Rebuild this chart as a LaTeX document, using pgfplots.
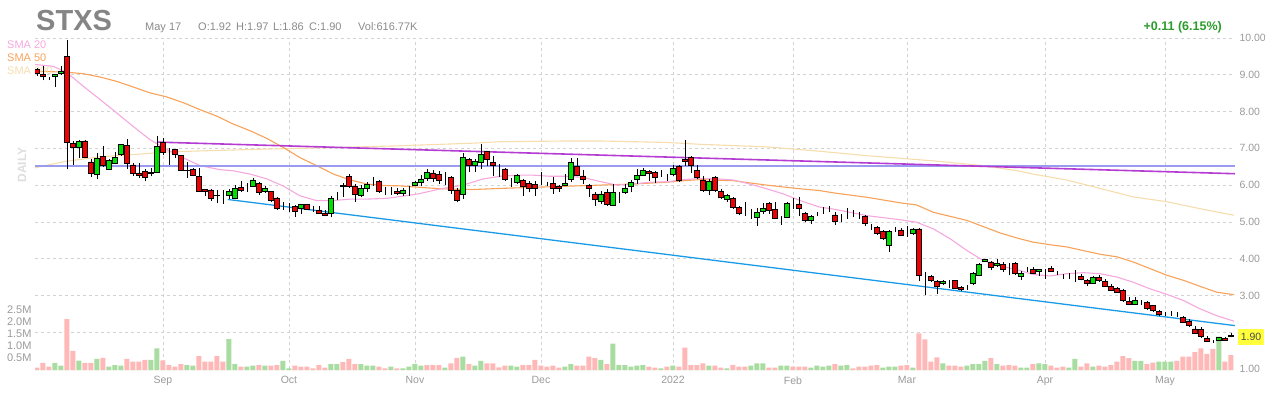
\documentclass[border=0pt]{standalone}
\usepackage{pgfplots}
\pgfplotsset{compat=1.18}
\usepackage{pgfplotstable}
\usepackage{fontspec}
\setmainfont{Liberation Sans}

\definecolor{gridc}{HTML}{D2D2D2}
\definecolor{labc}{HTML}{9A9A9A}
\definecolor{upc}{HTML}{00E000}
\definecolor{dnc}{HTML}{F00000}
\definecolor{vup}{HTML}{A8DCA0}
\definecolor{vdn}{HTML}{FFB8B8}
\definecolor{smaa}{HTML}{F5A8DE}
\definecolor{smab}{HTML}{F8A25A}
\definecolor{smac}{HTML}{F6DDAE}
\definecolor{purp}{HTML}{B43CD2}
\definecolor{viol}{HTML}{9A9AEE}
\definecolor{bluel}{HTML}{1B9BE6}
\definecolor{hdr}{HTML}{858585}
\definecolor{hdrs}{HTML}{8A8A8A}
\definecolor{gain}{HTML}{2C9C2C}
\definecolor{badge}{HTML}{FFFF3C}

\pgfplotstableread{
i o h l c v d
0 9.14 9.18 8.98 9.03 0.10 0
1 9.00 9.25 8.85 8.95 0.30 0
2 8.90 8.95 8.87 8.90 0.14 0
3 8.95 9.03 8.67 9.00 0.30 1
4 9.03 9.23 9.00 9.08 0.18 1
5 9.50 9.95 6.43 7.17 2.12 0
6 7.13 7.20 6.55 7.04 0.80 0
7 7.04 7.24 6.74 7.19 0.39 1
8 7.20 7.24 6.74 6.76 0.30 0
9 6.63 6.70 6.22 6.33 0.30 0
10 6.30 6.86 6.17 6.73 0.46 1
11 6.79 7.06 6.50 6.54 0.51 0
12 6.44 6.71 6.42 6.68 0.14 1
13 6.60 6.90 6.57 6.75 0.20 1
14 6.83 7.13 6.80 7.10 0.18 1
15 7.09 7.26 6.44 6.58 0.46 0
16 6.55 6.60 6.26 6.32 0.35 0
17 6.33 6.60 6.20 6.26 0.35 0
18 6.38 6.43 6.11 6.22 0.42 0
19 6.33 6.47 6.24 6.34 0.42 1
20 6.35 7.33 6.33 7.06 0.90 1
21 7.17 7.29 6.83 6.90 0.40 0
22 6.90 7.00 6.55 6.90 0.20 0
23 6.97 6.99 6.74 6.83 0.14 0
24 6.80 6.83 6.38 6.40 0.25 0
25 6.41 6.63 6.20 6.40 0.20 1
26 6.43 6.47 6.24 6.27 0.18 1
27 6.24 6.46 5.81 5.84 0.58 0
28 5.88 5.90 5.70 5.83 0.35 0
29 5.87 5.90 5.57 5.63 0.35 0
30 5.73 5.88 5.52 5.72 0.58 0
31 5.70 5.88 5.49 5.70 0.35 0
32 5.71 5.90 5.62 5.82 1.29 1
33 5.64 6.00 5.62 5.90 0.25 1
34 5.94 6.12 5.80 5.85 0.14 0
35 5.91 6.07 5.82 5.91 0.14 1
36 5.97 6.19 5.94 6.14 0.18 1
37 6.05 6.08 5.74 5.79 0.20 0
38 5.83 5.97 5.78 5.91 0.18 1
39 5.82 5.85 5.55 5.58 0.18 0
40 5.65 5.69 5.33 5.37 0.20 0
41 5.40 5.53 5.33 5.40 0.38 1
42 5.46 5.52 5.26 5.46 0.07 1
43 5.43 5.46 5.13 5.30 0.18 0
44 5.37 5.50 5.22 5.48 0.14 0
45 5.48 5.50 5.33 5.35 0.14 0
46 5.35 5.42 5.28 5.35 0.07 0
47 5.31 5.42 5.22 5.24 0.20 0
48 5.24 5.33 5.15 5.17 0.10 0
49 5.24 5.71 5.12 5.64 0.24 1
50 5.76 5.80 5.60 5.76 0.24 1
51 5.98 6.07 5.67 5.99 0.33 0
52 6.23 6.30 5.91 5.96 0.46 0
53 5.98 6.03 5.55 5.74 0.24 0
54 5.71 6.00 5.67 5.90 0.24 1
55 5.91 6.08 5.80 6.03 0.18 1
56 6.09 6.21 5.98 6.09 0.18 1
57 6.09 6.15 5.79 5.82 0.14 0
58 5.86 5.94 5.73 5.86 0.07 0
59 5.90 5.94 5.73 5.90 0.14 1
60 5.83 5.91 5.73 5.78 0.07 0
61 5.78 5.91 5.71 5.87 0.07 1
62 5.92 5.97 5.71 5.92 0.14 1
63 6.00 6.11 5.97 6.08 0.24 1
64 6.08 6.27 5.97 6.17 0.18 1
65 6.18 6.44 6.12 6.35 0.20 0
66 6.33 6.42 6.09 6.18 0.20 0
67 6.30 6.39 6.03 6.14 0.20 0
68 6.18 6.35 6.00 6.18 0.10 1
69 6.21 6.26 5.76 5.87 0.28 0
70 5.87 5.91 5.53 5.58 0.51 0
71 5.74 6.87 5.62 6.75 0.56 1
72 6.71 6.75 6.35 6.55 0.24 0
73 6.55 6.71 6.35 6.64 0.18 1
74 6.62 7.11 6.44 6.84 0.38 1
75 6.91 6.93 6.53 6.71 0.28 0
76 6.62 6.80 6.26 6.55 0.28 0
77 6.48 6.57 6.21 6.48 0.11 0
78 6.44 6.46 6.12 6.17 0.18 0
79 6.14 6.18 5.94 6.14 0.18 1
80 6.08 6.30 6.03 6.26 0.14 1
81 6.12 6.17 5.71 5.97 0.20 0
82 6.05 6.12 5.80 5.91 0.20 0
83 6.03 6.12 5.71 5.91 0.42 0
84 6.08 6.35 6.00 6.08 0.18 0
85 6.02 6.08 5.97 6.02 0.14 0
86 6.05 6.21 5.76 5.90 0.18 0
87 5.97 6.00 5.82 5.91 0.10 0
88 6.00 6.30 5.98 6.05 0.14 1
89 6.17 6.75 6.08 6.62 0.24 1
90 6.51 6.75 6.24 6.27 0.18 0
91 6.25 6.42 6.03 6.17 0.18 0
92 5.99 6.03 5.67 5.90 0.56 0
93 5.76 5.80 5.44 5.62 0.49 0
94 5.55 5.85 5.49 5.76 0.42 1
95 5.79 5.90 5.44 5.49 0.24 0
96 5.46 6.03 5.44 5.80 1.10 1
97 5.73 5.80 5.52 5.73 0.20 1
98 5.80 6.03 5.76 5.91 0.20 1
99 5.97 6.14 5.80 6.08 0.14 1
100 6.15 6.44 6.03 6.27 0.18 1
101 6.27 6.46 6.24 6.41 0.20 1
102 6.37 6.42 6.12 6.33 0.14 0
103 6.35 6.39 6.06 6.21 0.10 0
104 6.26 6.42 6.21 6.26 0.07 1
105 6.24 6.30 6.12 6.24 0.14 0
106 6.30 6.55 6.26 6.46 0.18 1
107 6.51 6.55 6.09 6.14 0.14 0
108 6.69 7.23 6.53 6.64 0.93 0
109 6.75 6.80 6.33 6.53 0.20 0
110 6.41 6.55 6.17 6.21 0.20 0
111 6.14 6.24 5.82 5.85 0.28 0
112 5.85 6.17 5.73 6.10 0.18 1
113 6.21 6.24 5.82 5.87 0.18 0
114 5.83 5.90 5.62 5.66 0.10 0
115 5.60 5.76 5.55 5.71 0.07 1
116 5.64 5.69 5.35 5.40 0.20 0
117 5.40 5.44 5.19 5.24 0.14 0
118 5.21 5.53 5.17 5.21 0.14 0
119 5.15 5.35 5.07 5.15 0.18 1
120 5.13 5.37 4.90 5.26 0.28 1
121 5.28 5.52 5.22 5.37 0.28 1
122 5.50 5.53 5.22 5.31 0.10 0
123 5.35 5.53 5.08 5.10 0.10 0
124 5.15 5.17 4.92 5.15 0.18 1
125 5.13 5.53 5.11 5.51 0.18 1
126 5.49 5.64 5.35 5.49 0.14 0
127 5.49 5.67 5.17 5.37 0.14 0
128 5.24 5.26 4.99 5.04 0.14 0
129 5.04 5.19 4.95 5.15 0.10 1
130 5.20 5.26 5.15 5.20 0.18 1
131 5.29 5.40 5.22 5.29 0.14 1
132 5.37 5.43 5.26 5.37 0.18 1
133 5.19 5.26 4.92 5.01 0.24 0
134 5.06 5.22 4.99 5.06 0.18 1
135 5.15 5.37 5.08 5.15 0.20 1
136 5.26 5.31 5.13 5.26 0.07 0
137 5.22 5.26 5.08 5.22 0.14 0
138 5.15 5.19 4.90 4.95 0.14 0
139 4.88 4.95 4.79 4.88 0.18 0
140 4.86 4.90 4.65 4.69 0.20 0
141 4.75 4.78 4.50 4.54 0.10 1
142 4.36 4.78 4.18 4.75 0.14 1
143 4.79 4.86 4.72 4.79 0.14 1
144 4.78 4.83 4.61 4.63 0.18 0
145 4.63 4.88 4.59 4.63 0.20 0
146 4.69 4.83 4.65 4.81 0.10 1
147 4.81 4.83 3.38 3.56 1.53 0
148 3.59 3.65 3.00 3.59 1.28 0
149 3.52 3.55 3.37 3.41 0.35 0
150 3.37 3.41 3.05 3.25 0.53 0
151 3.32 3.41 3.28 3.38 0.28 1
152 3.37 3.41 3.20 3.37 0.18 0
153 3.41 3.43 3.19 3.20 0.18 0
154 3.21 3.25 3.11 3.16 0.14 0
155 3.22 3.28 3.14 3.22 0.18 1
156 3.34 3.64 3.28 3.59 0.24 1
157 3.56 3.88 3.53 3.84 0.24 1
158 3.93 4.00 3.91 3.97 0.38 1
159 3.91 3.95 3.68 3.77 0.49 0
160 3.82 4.00 3.77 3.88 0.24 1
161 3.84 3.91 3.64 3.70 0.18 0
162 3.82 3.89 3.55 3.82 0.20 0
163 3.88 3.91 3.55 3.59 0.18 0
164 3.53 3.66 3.43 3.61 0.10 1
165 3.70 3.77 3.64 3.70 0.10 1
166 3.71 3.77 3.57 3.61 0.24 0
167 3.65 3.73 3.52 3.70 0.28 1
168 3.66 3.73 3.45 3.66 0.24 1
169 3.73 3.79 3.64 3.66 0.18 0
170 3.59 3.66 3.55 3.59 0.10 0
171 3.52 3.59 3.45 3.52 0.14 0
172 3.52 3.61 3.45 3.52 0.10 1
173 3.57 3.70 3.36 3.57 0.46 1
174 3.52 3.57 3.41 3.45 0.14 0
175 3.41 3.45 3.27 3.32 0.28 0
176 3.34 3.52 3.32 3.50 0.14 1
177 3.50 3.55 3.36 3.41 0.18 0
178 3.38 3.45 3.23 3.25 0.14 0
179 3.25 3.30 3.12 3.14 0.20 0
180 3.20 3.23 3.06 3.09 0.35 0
181 3.14 3.18 2.82 2.86 0.58 0
182 2.84 2.95 2.73 2.75 0.49 0
183 2.77 2.95 2.73 2.86 0.38 1
184 2.82 2.88 2.75 2.82 0.38 1
185 2.80 2.84 2.61 2.64 0.24 0
186 2.73 2.75 2.56 2.59 0.31 0
187 2.57 2.61 2.45 2.48 0.35 1
188 2.48 2.55 2.43 2.48 0.35 1
189 2.52 2.59 2.45 2.52 0.35 1
190 2.47 2.55 2.41 2.47 0.38 0
191 2.41 2.45 2.25 2.27 0.56 0
192 2.30 2.36 2.15 2.18 0.56 0
193 2.09 2.18 1.95 1.98 0.74 0
194 2.07 2.15 1.85 1.89 0.90 0
195 1.84 1.91 1.73 1.75 0.67 0
196 1.75 1.79 1.72 1.75 0.88 0
197 1.79 1.86 1.77 1.85 1.39 1
198 1.84 1.88 1.77 1.79 0.35 0
199 1.92 1.97 1.86 1.90 0.62 0
}\candles

\pgfplotstableread{
i p
-0.33 9.28
2.7 9.23
4.9 9.07
7.7 8.69
10.5 8.33
13.3 7.96
16 7.60
18.8 7.24
21.6 6.97
24.4 6.74
27.2 6.53
30.5 6.42
32.7 6.39
35.5 6.30
38.3 6.17
41.1 5.97
43.8 5.71
46.6 5.58
49.4 5.58
52.2 5.62
55 5.62
58.3 5.64
60.5 5.69
63.5 5.76
67.3 5.90
70.8 5.99
74.4 6.17
77.2 6.24
80 6.27
82.8 6.27
85.5 6.24
88.3 6.24
91 6.21
93.8 6.10
96.6 6.00
99.4 6.03
102.2 6.08
105 6.09
107.8 6.15
110.5 6.18
113.3 6.17
116 6.14
118.8 6.03
121.6 5.90
124.4 5.76
127.2 5.58
130.5 5.40
132.7 5.35
138.3 5.17
143.8 5.06
146.6 4.99
149.4 4.81
152.2 4.54
155 4.22
157.7 3.95
160.5 3.80
163.8 3.68
166 3.57
168.8 3.53
171.6 3.59
174.4 3.62
177.2 3.59
180 3.50
182.7 3.36
185.5 3.18
188.3 3.03
191.1 2.86
193.8 2.64
196.6 2.45
199.5 2.30
}\smatwenty

\pgfplotstableread{
i p
-0.33 9.10
4.9 9.07
7.7 9.03
10.5 8.94
13.3 8.82
16 8.67
18.8 8.51
21.6 8.40
24.4 8.24
27.2 8.05
29.9 7.88
32.7 7.66
35.5 7.48
38.3 7.27
41.1 7.02
43.8 6.75
46.6 6.53
49.4 6.30
52.2 6.14
55 6.03
57.7 5.99
60.5 5.98
63.8 5.94
67.3 5.90
72.6 5.88
77.2 5.91
82.8 5.94
88.3 5.97
93.8 6.00
99.4 6.03
105 6.08
107.8 6.12
110.5 6.15
116 6.12
121.6 6.00
127.2 5.90
130.5 5.85
132.7 5.79
138.3 5.67
143.8 5.52
146.6 5.46
149.4 5.26
155 5.04
160.5 4.70
163.8 4.54
166 4.45
168.8 4.38
171.6 4.32
177.2 4.12
180 4.05
182.7 3.91
185.5 3.73
188.3 3.55
191.1 3.41
193.8 3.25
196.6 3.09
199.5 3.02
}\smafifty

\pgfplotstableread{
i p
-0.33 6.47
2.2 6.56
4.9 6.65
10.5 6.77
16 6.83
21.6 6.90
27.2 6.93
38.3 6.98
49.4 7.02
60.5 7.07
72.6 7.14
77.2 7.18
88.3 7.20
94 7.20
105 7.16
110.5 7.11
121.6 7.04
130.5 6.92
138.3 6.80
149.4 6.66
157.7 6.53
163.8 6.38
166 6.30
171.6 6.14
177.2 5.91
182.7 5.68
188.3 5.55
193.8 5.36
199.5 5.18
}\smatwohundred

\pgfplotsset{
  base/.style={at={(35pt,31pt)}, anchor=south west, scale only axis,
    width=1200pt, height=331pt, xmin=-0.333, xmax=199.667, ymin=1, ymax=10,
    enlargelimits=false},
}

\begin{document}
\begin{tikzpicture}[x=1pt,y=1pt]
\useasboundingbox (0,0) rectangle (1280,400);

% price grid, labels, moving averages, trend lines
\begin{axis}[base,
  axis line style={draw=none}, tick style={draw=none},
  grid=major, major grid style={gridc, dash pattern=on 3pt off 3pt, line width=0.7pt},
  xtick={21,42,63,84,106,126,145,168,188},
  xticklabels={Sep,Oct,Nov,Dec,2022,Feb,Mar,Apr,May},
  ytick={1,2,3,4,5,6,7,8,9,10},
  yticklabels={1.00,{},3.00,4.00,5.00,6.00,7.00,8.00,9.00,10.00},
  yticklabel pos=right,
  ticklabel style={font=\fontsize{10.5}{12}\selectfont, text=labc},
  xticklabel style={yshift=-4pt},
  yticklabel style={xshift=1pt},
]
\addplot[smac, line width=1.1pt] table[x=i, y=p] {\smatwohundred};
\addplot[smab, line width=1.1pt] table[x=i, y=p] {\smafifty};
\addplot[smaa, line width=1.1pt] table[x=i, y=p] {\smatwenty};
\addplot[viol, line width=1.3pt] coordinates {(-0.333,6.52) (199.667,6.52)};
\addplot[purp, line width=1.6pt] coordinates {(20,7.17) (199.667,6.31)};
\addplot[bluel, line width=1.3pt] coordinates {(31.8,5.61) (199.667,2.18)};
\end{axis}

% volume
\begin{axis}[at={(35pt,30pt)}, anchor=south west, scale only axis,
  width=1200pt, height=60pt, xmin=-0.333, xmax=199.667, ymin=0, ymax=2.5,
  enlargelimits=false, axis line style={draw=none}, tick style={draw=none},
  xtick=\empty, ytick={0.5,1,1.5,2,2.5},
  yticklabels={0.5M,1.0M,1.5M,2.0M,2.5M},
  yticklabel style={font=\fontsize{11}{12}\selectfont, text=labc},
  ybar, bar width=5pt]
\addplot[fill=vdn, draw=none, bar shift=0pt] table[x=i, y expr={\thisrow{v}*(1-\thisrow{d})}] {\candles};
\addplot[fill=vup, draw=none, bar shift=0pt] table[x=i, y expr={\thisrow{v}*\thisrow{d}}] {\candles};
\end{axis}

% header and legend text
\node[anchor=base west, inner sep=0, font=\bfseries\fontsize{29}{30}\selectfont, text=hdr] at (36,370) {STXS};
\node[anchor=base west, inner sep=0, font=\fontsize{11}{12}\selectfont, text=hdrs] at (145,370) {May 17};
\node[anchor=base west, inner sep=0, font=\fontsize{11}{12}\selectfont, text=hdrs] at (198,370) {O:1.92};
\node[anchor=base west, inner sep=0, font=\fontsize{11}{12}\selectfont, text=hdrs] at (236,370) {H:1.97};
\node[anchor=base west, inner sep=0, font=\fontsize{11}{12}\selectfont, text=hdrs] at (273,370) {L:1.86};
\node[anchor=base west, inner sep=0, font=\fontsize{11}{12}\selectfont, text=hdrs] at (309,370) {C:1.90};
\node[anchor=base west, inner sep=0, font=\fontsize{11}{12}\selectfont, text=hdrs] at (358,370) {Vol:616.77K};
\node[anchor=base east, inner sep=0, font=\bfseries\fontsize{12.5}{14}\selectfont, text=gain] at (1222,370) {+0.11 (6.15\%)};
\node[anchor=west, inner sep=0, font=\fontsize{11}{12}\selectfont, text=smaa] at (7,355) {SMA 20};
\node[anchor=west, inner sep=0, font=\fontsize{11}{12}\selectfont, text=smab] at (7,342) {SMA 50};
\node[anchor=west, inner sep=0, font=\fontsize{11}{12}\selectfont, text=smac] at (7,329) {SMA 200};
\node[rotate=90, inner sep=0, font=\bfseries\fontsize{12}{14}\selectfont, text=black!13] at (22,235) {DAILY};
\node[fill=badge, inner sep=0, minimum width=26pt, minimum height=16pt, font=\fontsize{10.5}{12}\selectfont, text=black!70] at (1251,63) {1.90};

% wicks
\begin{axis}[base, hide axis]
\addplot[draw=none, mark=none,
  error bars/.cd, y dir=plus, y explicit, error mark=none,
  error bar style={line width=0.9pt, draw=black, solid}]
  table[x=i, y=l, y error plus expr={\thisrow{h}-\thisrow{l}}] {\candles};
\end{axis}

% bodies
\begin{axis}[base, hide axis, ybar stacked, bar width=4.4pt]
\addplot[draw=none, fill=none, bar shift=0pt] table[x=i, y expr={min(\thisrow{o},\thisrow{c})}] {\candles};
\addplot[fill=upc, draw=black, line width=0.7pt, bar shift=0pt] table[x=i, y expr={max(\thisrow{c}-\thisrow{o},0)}] {\candles};
\addplot[fill=dnc, draw=black, line width=0.7pt, bar shift=0pt] table[x=i, y expr={max(\thisrow{o}-\thisrow{c},0)}] {\candles};
\end{axis}
\end{tikzpicture}
\end{document}
